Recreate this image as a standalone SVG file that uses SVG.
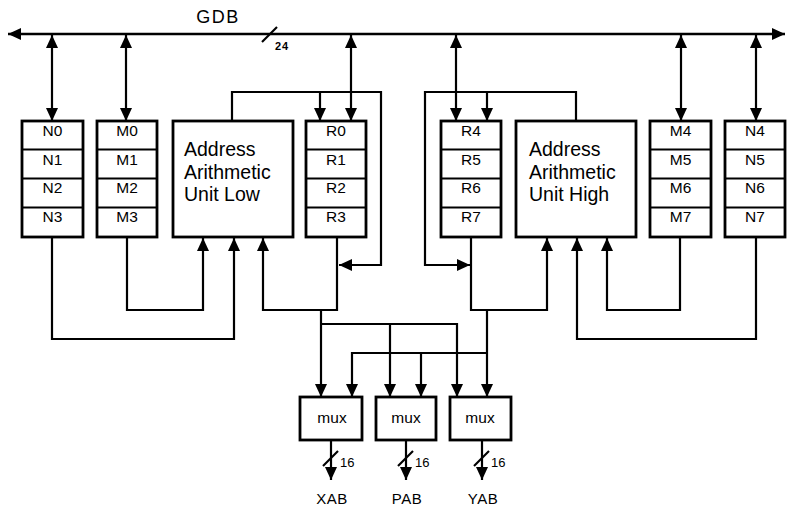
<svg xmlns="http://www.w3.org/2000/svg" width="790" height="511" viewBox="0 0 790 511">
<style>
.box{fill:#fff;stroke:#000;stroke-width:2.8}
.div{stroke:#000;stroke-width:2.2}
.ln{fill:none;stroke:#000;stroke-width:2.2}
.bus{fill:none;stroke:#000;stroke-width:2.6}
.t{font-family:"Liberation Sans",Arial,sans-serif;font-size:15.5px;fill:#000;text-anchor:middle}
.big{font-family:"Liberation Sans",Arial,sans-serif;font-size:19.5px;fill:#000}
.sm{font-family:"Liberation Sans",Arial,sans-serif;font-size:13px;fill:#000}
.lbl{font-family:"Liberation Sans",Arial,sans-serif;font-size:15px;fill:#000;text-anchor:middle;letter-spacing:0.5px}
</style>
<defs>
<marker id="ah" markerUnits="userSpaceOnUse" markerWidth="14" markerHeight="12" refX="13" refY="6" orient="auto-start-reverse" viewBox="0 0 14 12">
<path d="M0,0 L13,6 L0,12 z" fill="#000"/>
</marker>
</defs>

<g id="connectors">
<line class="bus" x1="8" y1="34" x2="785" y2="34" marker-start="url(#ah)" marker-end="url(#ah)"/>
<line class="ln" x1="262" y1="42" x2="277" y2="27"/>
<line class="ln" x1="52" y1="35" x2="52" y2="121" marker-start="url(#ah)" marker-end="url(#ah)"/>
<line class="ln" x1="126" y1="35" x2="126" y2="121" marker-start="url(#ah)" marker-end="url(#ah)"/>
<line class="ln" x1="351" y1="35" x2="351" y2="121" marker-start="url(#ah)" marker-end="url(#ah)"/>
<line class="ln" x1="456" y1="35" x2="456" y2="121" marker-start="url(#ah)" marker-end="url(#ah)"/>
<line class="ln" x1="681" y1="35" x2="681" y2="121" marker-start="url(#ah)" marker-end="url(#ah)"/>
<line class="ln" x1="756" y1="35" x2="756" y2="121" marker-start="url(#ah)" marker-end="url(#ah)"/>
<polyline class="ln" points="232,121 232,92 381,92 381,265 339,265" marker-end="url(#ah)"/>
<line class="ln" x1="320" y1="92" x2="320" y2="121" marker-end="url(#ah)"/>
<polyline class="ln" points="576,121 576,92 425,92 425,265 470,265" marker-end="url(#ah)"/>
<line class="ln" x1="487" y1="92" x2="487" y2="121" marker-end="url(#ah)"/>
<polyline class="ln" points="52,237 52,339 234,339 234,238" marker-end="url(#ah)"/>
<polyline class="ln" points="127,237 127,310 203,310 203,238" marker-end="url(#ah)"/>
<polyline class="ln" points="337,237 337,310 263,310 263,238" marker-end="url(#ah)"/>
<polyline class="ln" points="756,237 756,339 577,339 577,238" marker-end="url(#ah)"/>
<polyline class="ln" points="680,237 680,310 607,310 607,238" marker-end="url(#ah)"/>
<polyline class="ln" points="471,237 471,310 547,310 547,238" marker-end="url(#ah)"/>
<line class="ln" x1="321" y1="310" x2="321" y2="397" marker-end="url(#ah)"/>
<polyline class="ln" points="321,324 457,324 457,397" marker-end="url(#ah)"/>
<line class="ln" x1="390" y1="324" x2="390" y2="397" marker-end="url(#ah)"/>
<line class="ln" x1="487" y1="310" x2="487" y2="397" marker-end="url(#ah)"/>
<polyline class="ln" points="487,353 352,353 352,397" marker-end="url(#ah)"/>
<line class="ln" x1="421" y1="353" x2="421" y2="397" marker-end="url(#ah)"/>
<line class="ln" x1="331" y1="440" x2="331" y2="480" marker-end="url(#ah)"/>
<line class="ln" x1="323" y1="466" x2="338" y2="451"/>
<line class="ln" x1="406" y1="440" x2="406" y2="480" marker-end="url(#ah)"/>
<line class="ln" x1="398" y1="466" x2="413" y2="451"/>
<line class="ln" x1="482" y1="440" x2="482" y2="480" marker-end="url(#ah)"/>
<line class="ln" x1="474" y1="466" x2="489" y2="451"/>
</g>

<text class="lbl" x="218" y="23" style="font-size:18px;letter-spacing:1.5px">GDB</text>
<text class="sm" x="275" y="50" style="font-size:11px;font-weight:bold;letter-spacing:1px">24</text>
<text class="sm" x="340" y="467">16</text>
<text class="sm" x="415" y="467">16</text>
<text class="sm" x="491" y="467">16</text>

<g id="N0-3">
<rect class="box" x="22" y="121" width="61" height="116"/>
<line class="div" x1="22" y1="149.5" x2="83" y2="149.5"/>
<line class="div" x1="22" y1="178.5" x2="83" y2="178.5"/>
<line class="div" x1="22" y1="207.5" x2="83" y2="207.5"/>
<text class="t" x="52.5" y="136">N0</text>
<text class="t" x="52.5" y="165">N1</text>
<text class="t" x="52.5" y="193">N2</text>
<text class="t" x="52.5" y="222">N3</text>
</g>
<g id="M0-3">
<rect class="box" x="97" y="121" width="60" height="116"/>
<line class="div" x1="97" y1="149.5" x2="157" y2="149.5"/>
<line class="div" x1="97" y1="178.5" x2="157" y2="178.5"/>
<line class="div" x1="97" y1="207.5" x2="157" y2="207.5"/>
<text class="t" x="127" y="136">M0</text>
<text class="t" x="127" y="165">M1</text>
<text class="t" x="127" y="193">M2</text>
<text class="t" x="127" y="222">M3</text>
</g>
<g id="AAU-Low">
<rect class="box" x="173" y="121" width="120" height="116"/>
<text class="big" x="184" y="156">Address</text>
<text class="big" x="184" y="178.5">Arithmetic</text>
<text class="big" x="184" y="201">Unit Low</text>
</g>
<g id="R0-3">
<rect class="box" x="306" y="121" width="60" height="116"/>
<line class="div" x1="306" y1="149.5" x2="366" y2="149.5"/>
<line class="div" x1="306" y1="178.5" x2="366" y2="178.5"/>
<line class="div" x1="306" y1="207.5" x2="366" y2="207.5"/>
<text class="t" x="336" y="136">R0</text>
<text class="t" x="336" y="165">R1</text>
<text class="t" x="336" y="193">R2</text>
<text class="t" x="336" y="222">R3</text>
</g>
<g id="R4-7">
<rect class="box" x="441" y="121" width="60" height="116"/>
<line class="div" x1="441" y1="149.5" x2="501" y2="149.5"/>
<line class="div" x1="441" y1="178.5" x2="501" y2="178.5"/>
<line class="div" x1="441" y1="207.5" x2="501" y2="207.5"/>
<text class="t" x="471" y="136">R4</text>
<text class="t" x="471" y="165">R5</text>
<text class="t" x="471" y="193">R6</text>
<text class="t" x="471" y="222">R7</text>
</g>
<g id="AAU-High">
<rect class="box" x="516" y="121" width="120" height="116"/>
<text class="big" x="529" y="156">Address</text>
<text class="big" x="529" y="178.5">Arithmetic</text>
<text class="big" x="529" y="201">Unit High</text>
</g>
<g id="M4-7">
<rect class="box" x="650" y="121" width="61" height="116"/>
<line class="div" x1="650" y1="149.5" x2="711" y2="149.5"/>
<line class="div" x1="650" y1="178.5" x2="711" y2="178.5"/>
<line class="div" x1="650" y1="207.5" x2="711" y2="207.5"/>
<text class="t" x="680.5" y="136">M4</text>
<text class="t" x="680.5" y="165">M5</text>
<text class="t" x="680.5" y="193">M6</text>
<text class="t" x="680.5" y="222">M7</text>
</g>
<g id="N4-7">
<rect class="box" x="725" y="121" width="60" height="116"/>
<line class="div" x1="725" y1="149.5" x2="785" y2="149.5"/>
<line class="div" x1="725" y1="178.5" x2="785" y2="178.5"/>
<line class="div" x1="725" y1="207.5" x2="785" y2="207.5"/>
<text class="t" x="755" y="136">N4</text>
<text class="t" x="755" y="165">N5</text>
<text class="t" x="755" y="193">N6</text>
<text class="t" x="755" y="222">N7</text>
</g>
<g id="mux-X">
<rect class="box" x="300" y="397" width="62" height="43"/>
<text class="t" x="332" y="423">mux</text>
</g>
<g id="mux-P">
<rect class="box" x="376" y="397" width="60" height="43"/>
<text class="t" x="406" y="423">mux</text>
</g>
<g id="mux-Y">
<rect class="box" x="450" y="397" width="61" height="43"/>
<text class="t" x="480" y="423">mux</text>
</g>
<text class="lbl" x="332" y="504">XAB</text>
<text class="lbl" x="407" y="504">PAB</text>
<text class="lbl" x="483" y="504">YAB</text>
</svg>
